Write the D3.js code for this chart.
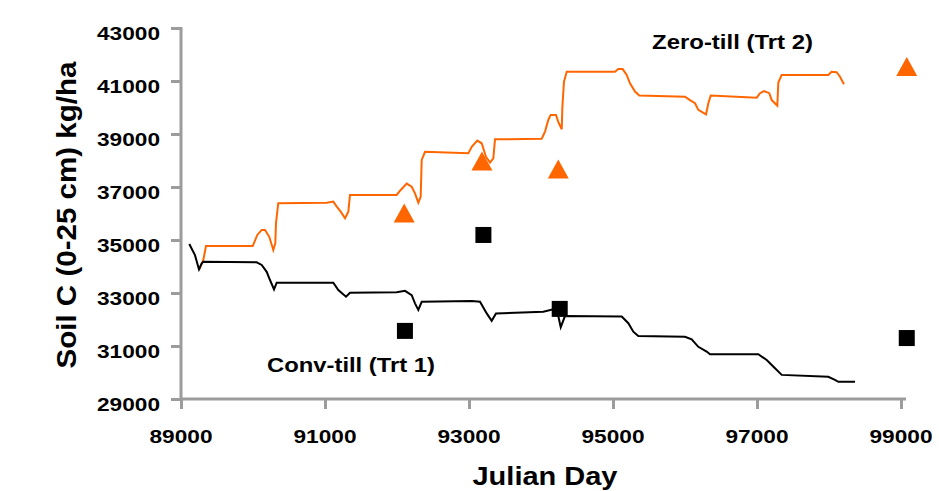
<!DOCTYPE html>
<html><head><meta charset="utf-8">
<script src="https://cdn.jsdelivr.net/npm/d3@7"></script>
<style>body{margin:0;background:#fff}text{font-family:"Liberation Sans",Arial,sans-serif;font-weight:bold;fill:#000}</style>
</head><body>
<svg id="c" width="939" height="491"></svg>
<script>
const xTicks = [89000, 91000, 93000, 95000, 97000, 99000];
const yTicks = [29000, 31000, 33000, 35000, 37000, 39000, 41000, 43000];

const convDays = [89115,89194,89250,89288,89310,90051,90121,90190,90236,90292,90329,91115,91185,91292,91347,91996,92111,92204,92250,92296,92343,93038,93153,93246,93315,93375,94032,94171,94222,94274,94333,95121,95213,95282,95351,96000,96093,96185,96301,96347,97018,97135,97250,97343,97990,98083,98129,98361];
const convC = [34850,34430,33890,34120,34180,34160,34060,33800,33490,33140,33390,33390,33110,32860,33010,33030,33080,32920,32610,32360,32670,32700,32670,32230,31950,32230,32290,32390,32360,31710,32130,32110,31860,31540,31380,31350,31250,30970,30790,30690,30690,30470,30160,29910,29840,29720,29650,29650];

const zeroDays = [89254,89310,89347,89996,90060,90121,90167,90226,90282,90310,90319,90351,91024,91115,91163,91218,91278,91324,91347,91996,92042,92135,92204,92250,92296,92329,92343,92389,92990,93038,93115,93176,93236,93292,93338,93361,94010,94056,94101,94135,94208,94240,94288,94296,94319,94357,95028,95074,95135,95190,95236,95306,95365,96000,96069,96139,96185,96292,96324,96357,96996,97042,97097,97171,97204,97282,97296,97343,97990,98036,98106,98153,98208];
const zeroC = [33890,34250,34770,34770,35190,35380,35380,35120,34620,34880,35630,36390,36410,36450,36260,36070,35820,36070,36700,36700,36860,37130,37010,36760,36410,36630,38020,38330,38270,38520,38750,38650,38140,37920,38080,38800,38820,39090,39530,39720,39720,39460,39180,39970,40970,41350,41350,41450,41450,41230,40910,40600,40450,40410,40280,40160,39910,39740,40160,40450,40370,40540,40620,40540,40280,40070,40940,41230,41230,41350,41330,41160,40880];

const obsDays = [92110, 93200, 94260, 99080];
const obsConv = [31570, 35190, 32400, 31300];
const obsZeroDays = [92100, 93180, 94240, 99080];
const obsZero = [36000, 37960, 37660, 41530];

const svg = d3.select("#c");
const x = d3.scaleLinear().domain([89000, 99000]).range([181, 901]);
const y = d3.scaleLinear().domain([29000, 43000]).range([399, 28]);
const axisColor = "#9c9c9c";

// axes
const xAxis = svg.append("g").attr("transform", "translate(0,399)")
  .call(d3.axisBottom(x).tickValues(xTicks).tickSize(10).tickSizeOuter(0).tickFormat(""));
const yAxis = svg.append("g").attr("transform", "translate(181,0)")
  .call(d3.axisLeft(y).tickValues(yTicks).tickSize(10).tickSizeOuter(0).tickFormat(""));
[xAxis, yAxis].forEach(a => {
  a.selectAll("path.domain").attr("stroke", axisColor).attr("stroke-width", 3);
  a.selectAll(".tick line").attr("stroke", axisColor).attr("stroke-width", 3);
});
yAxis.select("path.domain").attr("d", "M0,27V401");
xAxis.select("path.domain").attr("d", "M180,0H906");

// tick labels
svg.append("g").selectAll("text").data(xTicks).join("text")
  .attr("x", d => x(d)).attr("y", 443).attr("text-anchor", "middle")
  .attr("font-size", 19).attr("textLength", 63).attr("lengthAdjust", "spacingAndGlyphs")
  .text(d => d);
svg.append("g").selectAll("text").data(yTicks).join("text")
  .attr("x", 160).attr("y", d => y(d) + 12).attr("text-anchor", "end")
  .attr("font-size", 19).attr("textLength", 63).attr("lengthAdjust", "spacingAndGlyphs")
  .text(d => d);

// axis titles
svg.append("text").attr("x", 545).attr("y", 485).attr("text-anchor", "middle")
  .attr("font-size", 26).attr("textLength", 145).attr("lengthAdjust", "spacingAndGlyphs")
  .text("Julian Day");
svg.append("text").attr("transform", "translate(76,215) rotate(-90)").attr("text-anchor", "middle")
  .attr("font-size", 27).attr("textLength", 307).attr("lengthAdjust", "spacingAndGlyphs")
  .text("Soil C (0-25 cm) kg/ha");

// lines
const line = d3.line().x(d => x(d[0])).y(d => y(d[1]));
svg.append("path").datum(zeroDays.map((d, i) => [d, zeroC[i]]))
  .attr("d", line).attr("fill", "none").attr("stroke", "#ff6600").attr("stroke-width", 2);
svg.append("path").datum(convDays.map((d, i) => [d, convC[i]]))
  .attr("d", line).attr("fill", "none").attr("stroke", "#000").attr("stroke-width", 2);

// observed points
svg.append("g").selectAll("path").data(obsZeroDays.map((d, i) => [d, obsZero[i]])).join("path")
  .attr("transform", d => `translate(${x(d[0])},${y(d[1])})`)
  .attr("d", "M0,-10L10.5,9L-10.5,9Z").attr("fill", "#ff6600");
svg.append("g").selectAll("rect").data(obsDays.map((d, i) => [d, obsConv[i]])).join("rect")
  .attr("x", d => x(d[0]) - 8).attr("y", d => y(d[1]) - 8)
  .attr("width", 16).attr("height", 16).attr("fill", "#000");

// series labels
svg.append("text").attr("x", 652).attr("y", 49).attr("font-size", 20)
  .attr("textLength", 161).attr("lengthAdjust", "spacingAndGlyphs").text("Zero-till (Trt 2)");
svg.append("text").attr("x", 267).attr("y", 372).attr("font-size", 20)
  .attr("textLength", 168).attr("lengthAdjust", "spacingAndGlyphs").text("Conv-till (Trt 1)");
</script>
</body></html>
